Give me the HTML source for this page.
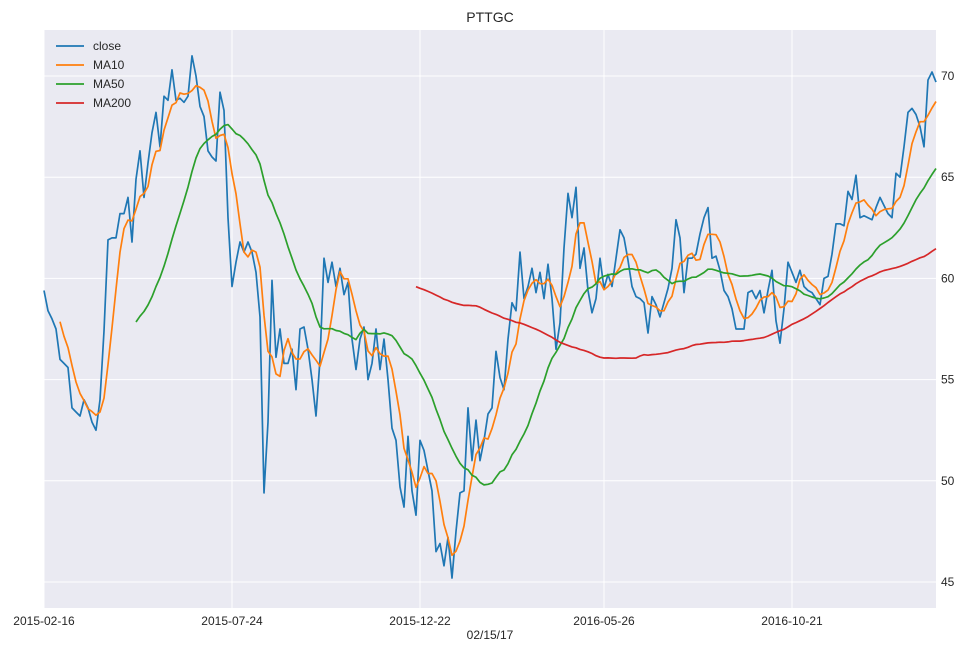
<!DOCTYPE html>
<html><head><meta charset="utf-8"><title>PTTGC</title>
<style>
html,body{margin:0;padding:0;background:#fff;}
svg{display:block;font-family:"Liberation Sans","DejaVu Sans",sans-serif;}
</style></head>
<body>
<svg id="chart" width="966" height="653" viewBox="0 0 966 653">
  <rect x="44" y="30" width="892" height="578" fill="#eaeaf2"/>
  <g id="grid"></g>
  <g id="series"></g>
  <g id="axes"></g>
  <text x="490" y="22" text-anchor="middle" font-size="14" fill="#262626">PTTGC</text>
  <text x="490" y="639" text-anchor="middle" font-size="12" fill="#262626">02/15/17</text>
  <g id="legend"></g>
</svg>
<script>
const closeValues = [59.4,58.4,58.0,57.5,56.0,55.8,55.6,53.6,53.4,53.2,54.0,53.6,52.9,52.5,54.0,57.4,61.9,62.0,62.0,63.2,63.2,64.0,61.8,64.9,66.3,64.0,65.7,67.2,68.2,66.5,69.0,68.8,70.3,68.8,68.9,68.7,69.0,71.0,70.0,68.5,68.0,66.3,66.0,65.8,69.2,68.3,63.0,59.6,60.8,61.8,61.3,61.8,61.3,60.3,58.1,49.4,52.9,59.9,56.1,57.5,55.8,55.8,56.5,54.5,57.5,57.6,56.5,55.0,53.2,56.0,61.0,59.8,60.8,59.6,60.5,59.2,59.8,57.0,55.5,57.0,57.6,55.0,55.8,57.5,55.5,57.0,55.0,52.6,52.0,49.7,48.7,52.2,49.5,48.3,52.0,51.5,50.5,49.5,46.5,46.9,45.8,47.2,45.2,47.5,49.4,49.5,53.6,51.0,53.0,51.0,52.0,53.3,53.6,56.4,55.1,54.5,57.0,58.8,58.4,61.3,59.0,59.6,60.5,59.3,60.3,59.0,60.7,59.0,56.5,57.8,61.5,64.2,63.0,64.5,60.5,61.5,59.4,58.3,59.0,61.0,59.5,60.2,59.6,61.0,62.4,62.0,60.9,59.6,59.1,59.0,58.8,57.3,59.1,58.7,58.1,58.8,59.5,60.5,62.9,62.0,59.3,61.0,61.0,61.2,62.2,63.0,63.5,61.0,61.1,60.4,59.4,59.1,58.5,57.5,57.5,57.5,59.3,59.4,59.0,59.4,58.3,59.4,60.4,57.9,56.8,58.5,60.8,60.3,59.8,60.4,59.6,59.4,59.3,59.0,58.7,60.0,60.1,61.2,62.7,62.7,62.6,64.3,63.9,65.1,63.0,63.1,63.0,62.9,63.5,64.0,63.6,63.2,63.0,65.2,65.0,66.5,68.2,68.4,68.1,67.5,66.5,69.8,70.2,69.7];
const maWindows = [5, 24, 94];
const seriesNames = ["close","MA10","MA50","MA200"];
const seriesColors = ["#1f77b4","#ff7f0e","#2ca02c","#d62728"];
const yTicks = [45,50,55,60,65,70];
const xTickLabels = ["2015-02-16","2015-07-24","2015-12-22","2016-05-26","2016-10-21"];
const xTickIndex = [0, 47, 94, 140, 187];

const NS="http://www.w3.org/2000/svg";
const X0=44, X1=936, Y70=76, PXU=20.24;
const n = closeValues.length;
function xs(i){ return X0 + i*(X1-X0)/(n-1); }
function ys(v){ return Y70 + (70-v)*PXU; }
function mk(tag, attrs, parent){
  const e=document.createElementNS(NS,tag);
  for(const k in attrs) e.setAttribute(k, attrs[k]);
  parent.appendChild(e); return e;
}
const grid=document.getElementById('grid'), axes=document.getElementById('axes'), series=document.getElementById('series'), legend=document.getElementById('legend');

yTicks.forEach(t=>{
  const l=mk('line',{x1:X0,x2:X1,y1:ys(t),y2:ys(t),stroke:'#fff','stroke-width':1},grid);
  
  
  const tx=mk('text',{x:941,y:ys(t)+4,'font-size':12,fill:'#262626'},axes);
  tx.textContent=t;
  
  
});
xTickIndex.forEach((ix,k)=>{
  const x=xs(ix);
  const l=mk('line',{x1:x,x2:x,y1:30,y2:608,stroke:'#fff','stroke-width':1},grid);
  
  
  const tx=mk('text',{x:x,y:625,'font-size':12,fill:'#262626','text-anchor':'middle'},axes);
  tx.textContent=xTickLabels[k];
  
  
});

function rolling(arr,w){
  const out=[];
  for(let i=0;i<arr.length;i++){
    if(i<w-1){out.push(null);continue;}
    let s=0; for(let j=i-w+1;j<=i;j++) s+=arr[j];
    out.push(s/w);
  }
  return out;
}
const allSeries=[closeValues].concat(maWindows.map(w=>rolling(closeValues,w)));
allSeries.forEach((arr,si)=>{
  let d='';
  arr.forEach((v,i)=>{ if(v===null) return; d+=(d?'L':'M')+xs(i).toFixed(1)+','+ys(v).toFixed(1); });
  const p=mk('path',{d:d,fill:'none',stroke:seriesColors[si],'stroke-width':1.7,'stroke-linejoin':'round'},series);
  
  
});

seriesNames.forEach((nm,k)=>{
  const y=46+k*19;
  const l=mk('line',{x1:56,x2:84,y1:y,y2:y,stroke:seriesColors[k],'stroke-width':1.8},legend);
  
  
  const t=mk('text',{x:93,y:y+4,'font-size':12,fill:'#262626'},legend);
  t.textContent=nm;
  
  
});
</script>
</body></html>
